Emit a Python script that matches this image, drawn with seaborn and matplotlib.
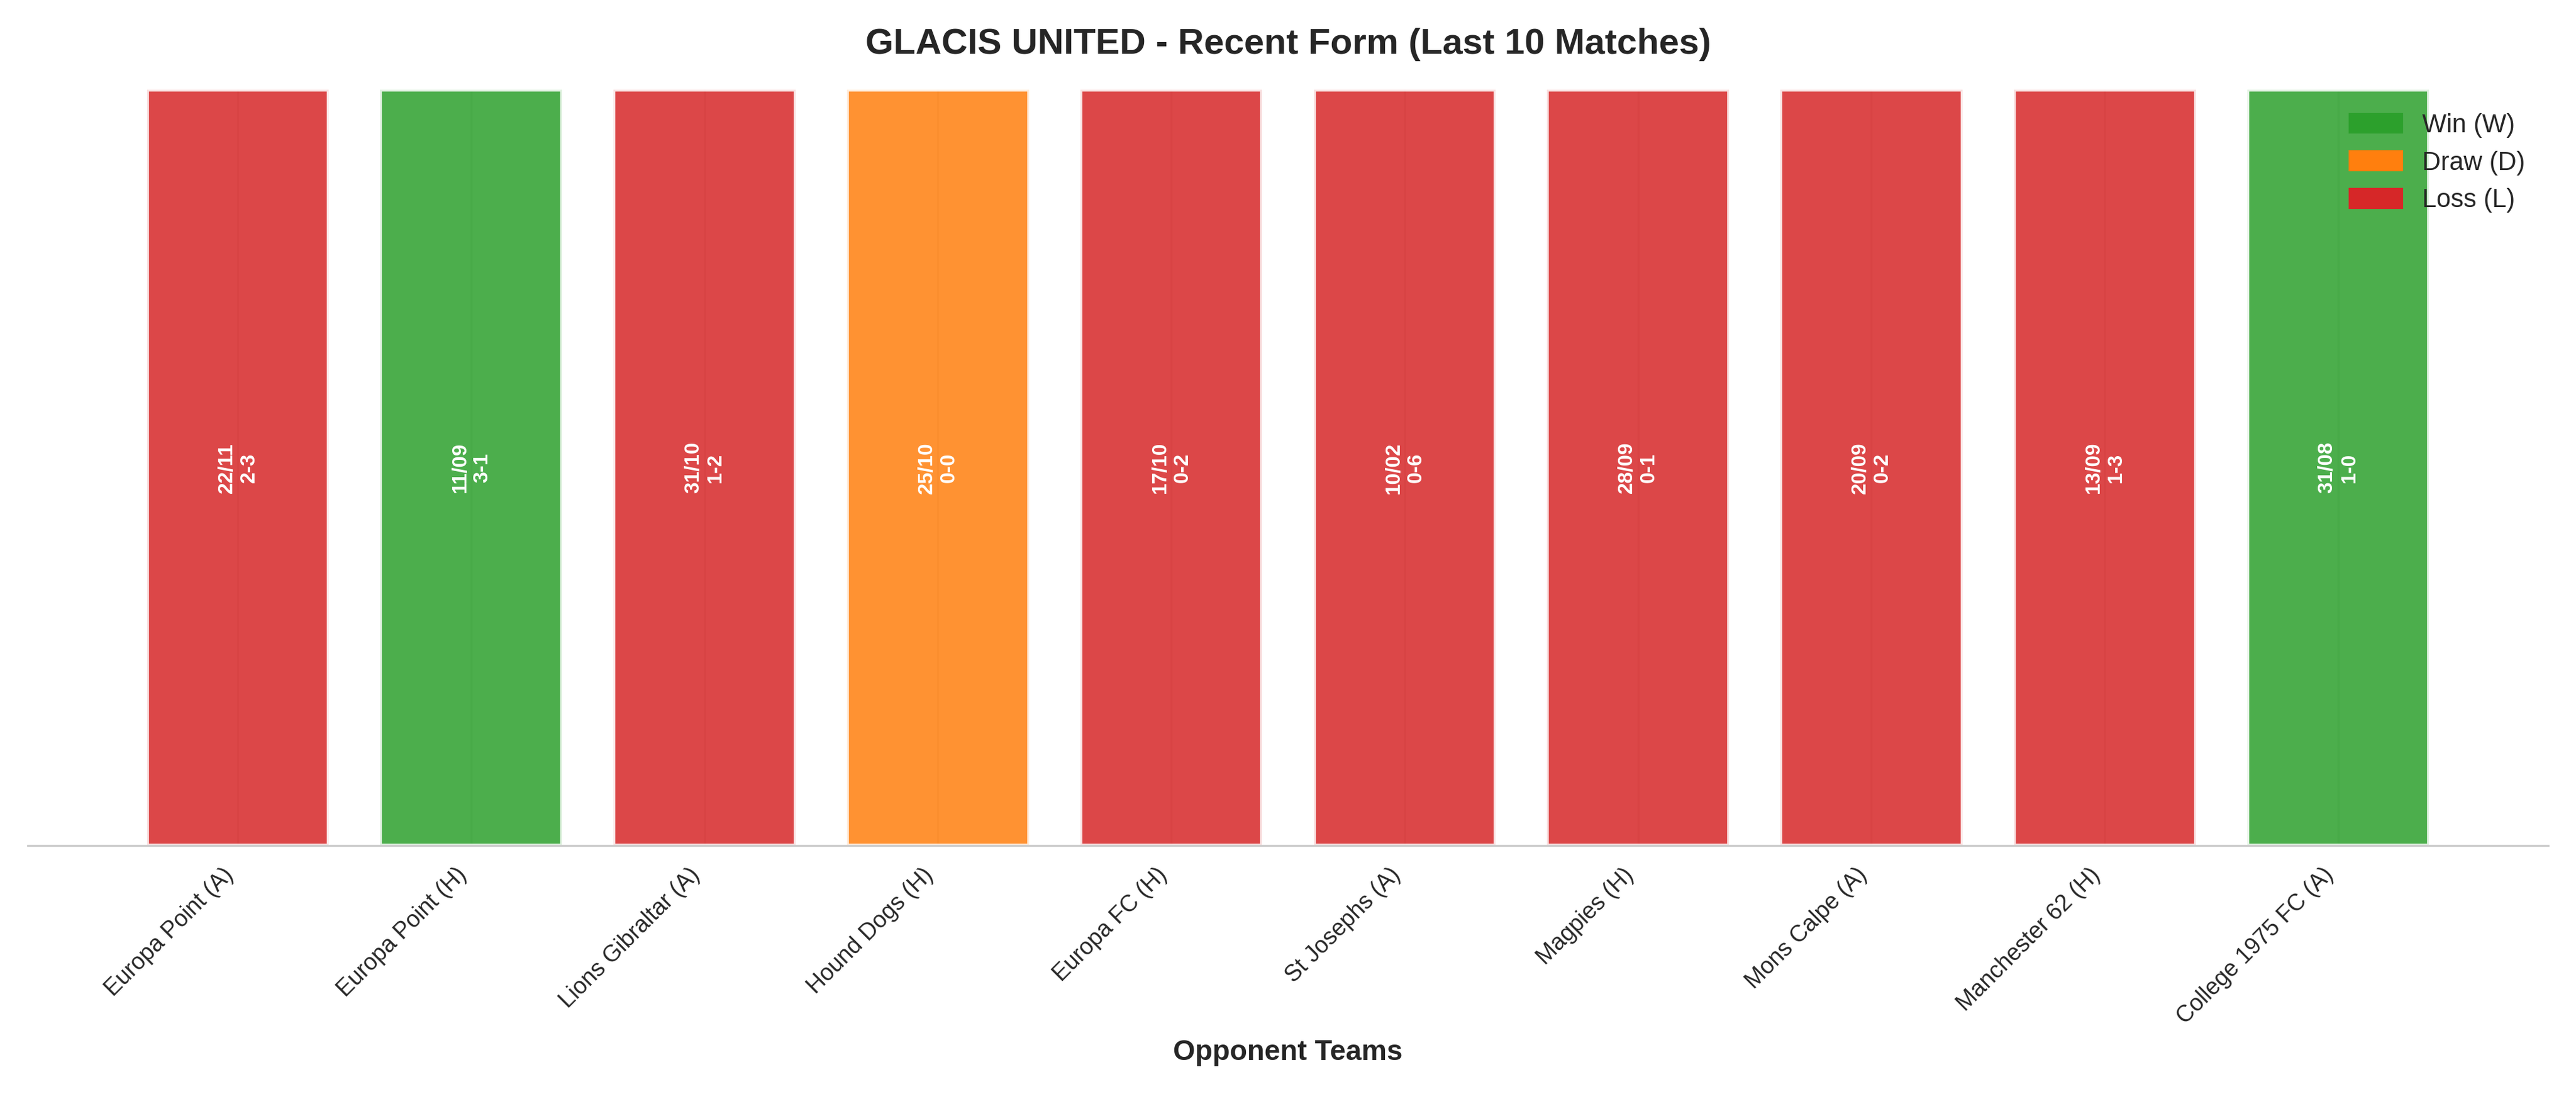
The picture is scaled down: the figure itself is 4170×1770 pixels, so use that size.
import pandas as pd
import seaborn as sns
import matplotlib.pyplot as plt
from matplotlib.patches import Patch

opponents = ['Europa Point (A)', 'Europa Point (H)', 'Lions Gibraltar (A)', 'Hound Dogs (H)',
             'Europa FC (H)', 'St Josephs (A)', 'Magpies (H)', 'Mons Calpe (A)',
             'Manchester 62 (H)', 'College 1975 FC (A)']
dates = ['22/11', '11/09', '31/10', '25/10', '17/10', '10/02', '28/09', '20/09', '13/09', '31/08']
scores = ['2-3', '3-1', '1-2', '0-0', '0-2', '0-6', '0-1', '0-2', '1-3', '1-0']
results = ['L', 'W', 'L', 'D', 'L', 'L', 'L', 'L', 'L', 'W']

colors = {'W': '#2ca02c', 'D': '#ff7f0e', 'L': '#d62728'}
labels = {'W': 'Win (W)', 'D': 'Draw (D)', 'L': 'Loss (L)'}

df = pd.DataFrame({'opponent': opponents, 'result': results, 'value': [1] * len(opponents)})

sns.set_style('whitegrid')
plt.rcParams['font.family'] = ['Liberation Sans', 'DejaVu Sans']
fig, ax = plt.subplots(figsize=(13.9, 5.9), dpi=300)

sns.barplot(data=df, x='opponent', y='value', hue='result', palette=colors,
            dodge=False, alpha=0.85, edgecolor='white', linewidth=1.5, saturation=1,
            width=0.78, legend=False, ax=ax)

for i, (d, s) in enumerate(zip(dates, scores)):
    ax.text(i, 0.5, '{}\n{}'.format(d, s), rotation=90, ha='center', va='center',
            color='white', fontsize=8, fontweight='bold')

ax.set_title('GLACIS UNITED - Recent Form (Last 10 Matches)', fontsize=14, fontweight='bold', pad=14)
ax.set_xlabel('Opponent Teams', fontsize=11, fontweight='bold')
ax.set_ylabel('')
ax.set_yticks([])
ax.set_ylim(0, 1)
ax.set_xlim(-0.9, 9.9)
ax.grid(axis='y', visible=False)
ax.grid(axis='x', alpha=0.5)
plt.setp(ax.get_xticklabels(), rotation=45, ha='right', fontsize=9)
for sp in ['top', 'right', 'left']:
    ax.spines[sp].set_visible(False)
ax.spines['bottom'].set_color('#cccccc')

handles = [Patch(color=colors[k], label=labels[k]) for k in ['W', 'D', 'L']]
ax.legend(handles=handles, loc='upper right', frameon=False, fontsize=10)

plt.tight_layout()
plt.savefig('out.png', dpi=300)
